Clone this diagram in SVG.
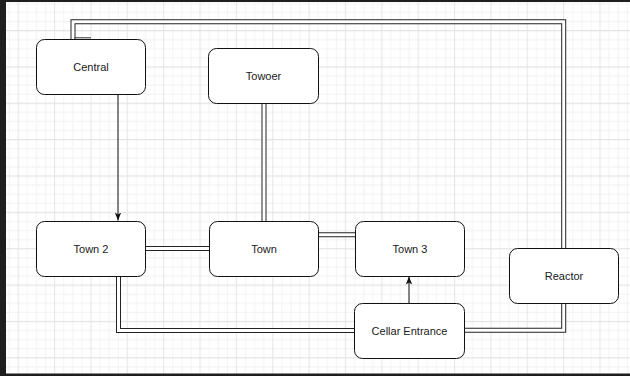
<svg xmlns="http://www.w3.org/2000/svg" width="630" height="376" viewBox="0 0 630 376">
  <style>
    .box { fill: #ffffff; stroke: #111111; stroke-width: 1; }
    .lbl { font-family: "Liberation Sans", Arial, sans-serif; font-size: 11px; fill: #1a1a1a; text-anchor: middle; dominant-baseline: central; }
    .linkOuter { fill: none; stroke: #222222; stroke-width: 5; stroke-linejoin: miter; }
    .linkInner { fill: none; stroke: #ffffff; stroke-width: 3; stroke-linejoin: miter; }
    .edge { fill: none; stroke: #111111; stroke-width: 1; }
  </style>
  <defs>
    <pattern id="grid" patternUnits="userSpaceOnUse" width="36.36" height="36.36" x="13.755" y="26.055">
      <path d="M13.635 0V36.36M22.725 0V36.36M31.815 0V36.36M0 13.635H36.36M0 22.725H36.36M0 31.815H36.36" stroke="#f3f3f3" stroke-width="1" fill="none"/>
      <path d="M4.545 0V36.36M0 4.545H36.36" stroke="#e4e4e4" stroke-width="1" fill="none"/>
    </pattern>
    <marker id="arrow" viewBox="0 0 10 10" refX="10" refY="5" markerWidth="8" markerHeight="8" markerUnits="userSpaceOnUse" orient="auto">
      <path d="M0 1 L10 5 L0 9 L2.5 5 Z" fill="#111111"/>
    </marker>
  </defs>

  <rect x="0" y="0" width="630" height="376" fill="#ffffff"/>
  <rect x="0" y="0" width="630" height="376" fill="url(#grid)"/>

  <g id="connectors">
    <!-- Central to Reactor (link) -->
    <path class="linkOuter" d="M73 39.3 V21.7 H563.7 V248"/>
    <path class="linkInner" d="M73 39.3 V21.7 H563.7 V248"/>
    <line x1="74.5" y1="37.8" x2="91" y2="37.8" stroke="#333333" stroke-width="1"/>
    <!-- Towoer to Town -->
    <path class="linkOuter" d="M264 103 V221"/>
    <path class="linkInner" d="M264 103 V221"/>
    <!-- Town 2 to Town -->
    <path class="linkOuter" d="M146 248.5 H209"/>
    <path class="linkInner" d="M146 248.5 H209"/>
    <!-- Town to Town 3 -->
    <path class="linkOuter" d="M318 234.8 H355"/>
    <path class="linkInner" d="M318 234.8 H355"/>
    <!-- Town 2 to Cellar Entrance -->
    <path class="linkOuter" d="M118.5 276 V330.5 H354"/>
    <path class="linkInner" d="M118.5 276 V330.5 H354"/>
    <!-- Cellar Entrance to Reactor -->
    <path class="linkOuter" d="M464 330.3 H563.7 V303"/>
    <path class="linkInner" d="M464 330.3 H563.7 V303"/>
    <!-- Central to Town 2 (arrow) -->
    <path class="edge" d="M118 94.5 V220.5" marker-end="url(#arrow)"/>
    <!-- Cellar Entrance to Town 3 (arrow) -->
    <path class="edge" d="M409 303 V276.5" marker-end="url(#arrow)"/>
  </g>

  <g id="central">
    <rect class="box" x="36.5" y="39.5" width="109" height="55" rx="8"/>
    <text class="lbl" x="91" y="66.5">Central</text>
  </g>
  <g id="towoer">
    <rect class="box" x="208.5" y="48.5" width="110" height="55" rx="8"/>
    <text class="lbl" x="263.5" y="75.5">Towoer</text>
  </g>
  <g id="town2">
    <rect class="box" x="36.5" y="221.5" width="109" height="55" rx="8"/>
    <text class="lbl" x="91" y="248.5">Town 2</text>
  </g>
  <g id="town">
    <rect class="box" x="209.5" y="221.5" width="109" height="55" rx="8"/>
    <text class="lbl" x="264" y="248.5">Town</text>
  </g>
  <g id="town3">
    <rect class="box" x="355.5" y="221.5" width="109" height="55" rx="8"/>
    <text class="lbl" x="410" y="248.5">Town 3</text>
  </g>
  <g id="cellar">
    <rect class="box" x="354.5" y="303.5" width="110" height="55" rx="8"/>
    <text class="lbl" x="409.5" y="330.5">Cellar Entrance</text>
  </g>
  <g id="reactor">
    <rect class="box" x="509.5" y="248.5" width="109" height="55" rx="8"/>
    <text class="lbl" x="564" y="275.5">Reactor</text>
  </g>

  <rect x="0" y="0" width="6" height="376" fill="#1e1e1e"/>
  <rect x="0" y="0" width="630" height="2" fill="#1e1e1e"/>
  <rect x="0" y="373.5" width="630" height="2.5" fill="#1e1e1e"/>
</svg>
